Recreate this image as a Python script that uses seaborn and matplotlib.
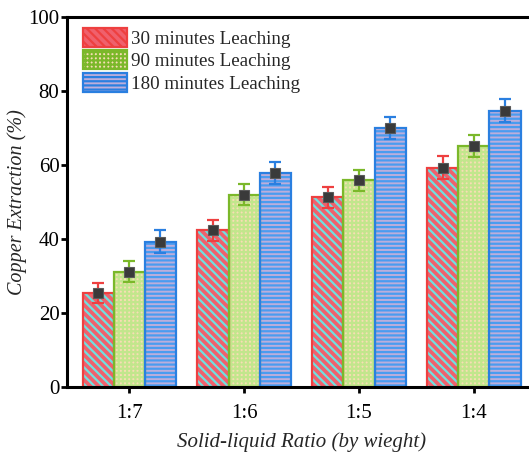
import matplotlib
matplotlib.use("Agg")
import matplotlib.pyplot as plt
from matplotlib.patches import Rectangle, Patch
import seaborn as sns
import pandas as pd

# Copper extraction vs solid-liquid ratio for three leaching times
ratios = ["1:7", "1:6", "1:5", "1:4"]
series_names = ["30 minutes Leaching", "90 minutes Leaching", "180 minutes Leaching"]
ext_30 = [25.4, 42.3, 51.3, 59.3]
ext_90 = [31.2, 52.0, 55.9, 65.1]
ext_180 = [39.3, 57.8, 70.0, 74.6]
err_30 = [2.8, 2.9, 2.8, 3.0]
err_90 = [2.9, 2.8, 2.8, 2.9]
err_180 = [3.1, 3.0, 3.0, 3.1]

values = [ext_30, ext_90, ext_180]
errors = [err_30, err_90, err_180]

df = pd.DataFrame({
    "ratio": ratios * 3,
    "series": [s for s in series_names for _ in ratios],
    "value": ext_30 + ext_90 + ext_180,
})

# fill, hatch colour, outline colour and hatch pattern for each series
faces = ["#F0606C", "#F8DDB4", "#BCAEDB"]
hatch_cols = ["#6FE0E0", "#C2E68C", "#4A9CF0"]
edges = ["#EE4040", "#7BB82A", "#2A7FE0"]
hatches = ["\\\\\\\\", "++++", "----"]

sns.set_theme(style="ticks")
plt.rcParams["font.family"] = ["Liberation Serif", "DejaVu Serif"]
plt.rcParams["hatch.linewidth"] = 1.6

fig = plt.figure(figsize=(5.29, 4.53), dpi=100)
ax = fig.add_axes([0.1267, 0.1457, 0.8866, 0.8168])

sns.barplot(data=df, x="ratio", y="value", hue="series", order=ratios,
            hue_order=series_names, width=0.81, errorbar=None, ax=ax,
            legend=False, saturation=1)

bar_groups = list(ax.containers)
for i, cont in enumerate(bar_groups):
    xs = []
    for p in cont.patches:
        p.set_facecolor(faces[i])
        p.set_edgecolor(hatch_cols[i])
        p.set_hatch(hatches[i])
        p.set_linewidth(0)
        ax.add_patch(Rectangle(p.get_xy(), p.get_width(), p.get_height(),
                               fill=False, edgecolor=edges[i], linewidth=1.6,
                               zorder=p.get_zorder() + 0.1))
        xs.append(p.get_x() + p.get_width() / 2)
    ax.errorbar(xs, values[i], yerr=errors[i], fmt="none", ecolor=edges[i],
                elinewidth=1.6, capsize=4, capthick=1.6, zorder=4)
    ax.plot(xs, values[i], "s", color="#3A3A3A", mec="#5A5A5A", mew=0.8,
            markersize=6.5, zorder=5, linestyle="none")

ax.set_ylim(0, 100)
ax.set_xlim(-0.54, 3.54)
ax.set_yticks([0, 20, 40, 60, 80, 100])
ax.set_xlabel("Solid-liquid Ratio (by wieght)", fontsize=15, style="italic", labelpad=7)
ax.set_ylabel("Copper Extraction (%)", fontsize=14.5, style="italic", labelpad=1)
ax.tick_params(axis="both", labelsize=15, width=2, length=4, color="black",
               labelcolor="black")
ax.tick_params(axis="y", pad=1.5)
ax.tick_params(axis="x", pad=8)
for side in ["left", "bottom", "top"]:
    ax.spines[side].set_linewidth(2.2)
    ax.spines[side].set_color("black")
ax.spines["right"].set_visible(False)

handles = []
for i in range(3):
    handles.append(Patch(facecolor=faces[i], edgecolor=edges[i], hatch=hatches[i],
                         linewidth=1.6))
leg = ax.legend(handles, series_names, loc="upper left", frameon=False,
                fontsize=13.7, handlelength=2.3, handleheight=1.15,
                handletextpad=0.25, labelspacing=0.15, borderpad=0,
                bbox_to_anchor=(0.034, 0.971), borderaxespad=0)

fig.savefig("out.png", dpi=100)
